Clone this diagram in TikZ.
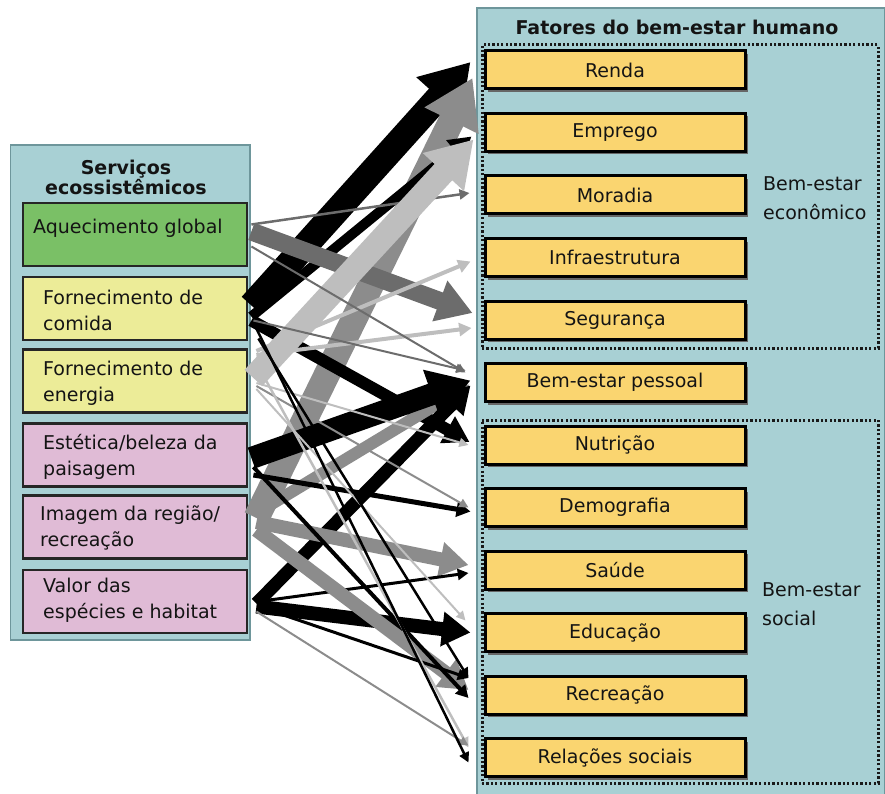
\documentclass[tikz,border=0pt]{standalone}
\usepackage{fontspec}
\setmainfont{DejaVu Sans}
\usetikzlibrary{arrows.meta,calc,shadows}
\definecolor{panel}{RGB}{168,208,212}
\definecolor{panelline}{RGB}{110,150,155}
\definecolor{svgreen}{RGB}{122,192,102}
\definecolor{svyellow}{RGB}{236,236,152}
\definecolor{svpink}{RGB}{224,187,214}
\definecolor{facyellow}{RGB}{250,213,112}
\definecolor{cdark}{RGB}{108,108,108}
\definecolor{cmed}{RGB}{140,140,140}
\definecolor{clight}{RGB}{190,190,190}
\definecolor{txt}{RGB}{20,20,20}
\begin{document}
\begin{tikzpicture}[x=1pt,y=-1pt,
  every node/.style={font=\fontsize{19}{26}\selectfont, text=txt},
  panelbox/.style={draw=panelline, line width=1.2pt, fill=panel, inner sep=0pt},
  svc/.style={draw=black!85, line width=2.8pt, minimum width=224pt, minimum height=63pt, inner sep=0pt},
  svctext/.style={anchor=west, align=left, inner sep=0pt},
  fac/.style={draw=black, line width=3pt, fill=facyellow, minimum width=260pt, minimum height=38pt, inner sep=0pt,
    drop shadow={shadow xshift=3pt, shadow yshift=-3pt, fill=black!60, opacity=1}},
  dotbox/.style={draw=black!90, line width=3pt, dash pattern=on 2.2pt off 2.2pt, inner sep=0pt},
  grp/.style={anchor=west, align=left, inner sep=0pt, font=\fontsize{19}{29}\selectfont},
  ttl/.style={align=center, inner sep=0pt, font=\bfseries\fontsize{19}{20}\selectfont},
  arw/.style={-{Triangle[length=6pt 1.6, width=5pt 2]}, line cap=butt}
]
\useasboundingbox (0,0) rectangle (885,794);
\clip (0,0) rectangle (885,794);

% panels
\node[panelbox, minimum width=239.5pt, minimum height=495pt] (lp) at (130.25,392.5) {};
\node[panelbox, minimum width=407.5pt, minimum height=810pt] (rp) at (680.75,413) {};

% left title and services
\node[ttl] (lt) at (126,177) {Serviços\\ecossistêmicos};
\node[svc, fill=svgreen]  (aq)  at (135,234.5) {};
\node[svc, fill=svyellow] (com) at (135,308.5) {};
\node[svc, fill=svyellow] (en)  at (135,381) {};
\node[svc, fill=svpink]   (est) at (135,455) {};
\node[svc, fill=svpink]   (img) at (135,527) {};
\node[svc, fill=svpink]   (val) at (135,601.5) {};
\node[svctext] (aqt)  at (33,228) {Aquecimento global};
\node[svctext] (comt) at (43,310) {Fornecimento de\\comida};
\node[svctext] (ent)  at (43,383.5) {Fornecimento de\\energia};
\node[svctext] (estt) at (43,456.5) {Estética/beleza da\\paisagem};
\node[svctext] (imgt) at (40,527.5) {Imagem da região/\\recreação};
\node[svctext] (valt) at (43,600) {Valor das\\espécies e habitat};

% right title, groups and factors
\node[ttl] (rt) at (677,27) {Fatores do bem-estar humano};
\node[dotbox, minimum width=396pt, minimum height=303pt] (econ) at (680,196.5) {};
\node[dotbox, minimum width=396pt, minimum height=363pt] (soc) at (680,601.5) {};
\node[grp] (econt) at (763,198) {Bem-estar\\econômico};
\node[grp] (soct) at (762,604) {Bem-estar\\social};

\node[fac] (renda) at (615,70) {Renda};
\node[fac] (emp)   at (615,132.5) {Emprego};
\node[fac] (mor)   at (615,195) {Moradia};
\node[fac] (inf)   at (615,257.5) {Infraestrutura};
\node[fac] (seg)   at (615,320) {Segurança};
\node[fac] (pes)   at (615,382.5) {Bem-estar pessoal};
\node[fac] (nut)   at (615,445) {Nutrição};
\node[fac] (dem)   at (615,507.5) {Demografia};
\node[fac] (sau)   at (615,570) {Saúde};
\node[fac] (edu)   at (615,632.5) {Educação};
\node[fac] (rec)   at (615,695) {Recreação};
\node[fac] (rel)   at (615,757.5) {Relações sociais};

% connectors
\draw[arw, draw=black, line width=26pt] ($(com.east)+(3,-3)$) -- ($(renda.west)+(-13,-8)$);
\draw[arw, draw=cmed, line width=26pt] ($(img.east)+(8,-9)$) -- ($(renda.west)+(-11,8)$);
\draw[arw, draw=black, line width=10pt] ($(com.east)+(3,8)$) -- ($(emp.west)+(-12,4)$);
\draw[arw, draw=black, line width=12pt] ($(com.east)+(3,12)$) -- ($(nut.west)+(-14,-3)$);
\draw[arw, draw=cdark, line width=18pt] ($(aq.east)+(3,-3)$) -- ($(seg.west)+(-11,-7)$);
\draw[arw, draw=cdark, line width=2.5pt] ($(aq.east)+(3,-10)$) -- ($(mor.west)+(-14,-2)$);
\draw[arw, draw=cmed, line width=12pt] ($(img.east)+(10,-15)$) -- ($(pes.west)+(-14,2)$);
\draw[arw, draw=clight, line width=24pt] ($(en.east)+(5,-3)$) -- ($(emp.west)+(-10,7)$);
\draw[arw, draw=clight, line width=4pt] ($(en.east)+(8,-30)$) -- ($(inf.west)+(-13,4)$);
\draw[arw, draw=clight, line width=4pt] ($(en.east)+(8,-26)$) -- ($(seg.west)+(-12,8)$);
\draw[arw, draw=cdark, line width=2pt] ($(aq.east)+(3,12)$) -- ($(pes.west)+(-18,-10)$);
\draw[arw, draw=cdark, line width=2pt] ($(com.east)+(5,12)$) -- ($(pes.west)+(-18,-12)$);
\draw[arw, draw=black, line width=22pt] ($(est.east)+(3,3)$) -- ($(pes.west)+(-13,-2)$);
\draw[arw, draw=black, line width=13pt] ($(val.east)+(8,2)$) -- ($(pes.west)+(-13,3)$);
\draw[arw, draw=clight, line width=2pt] ($(en.east)+(8,2)$) -- ($(nut.west)+(-15,0)$);
\draw[arw, draw=black, line width=5pt] ($(est.east)+(5,20)$) -- ($(dem.west)+(-13,4)$);
\draw[arw, draw=cmed, line width=2pt] ($(en.east)+(8,5)$) -- ($(dem.west)+(-15,0)$);
\draw[arw, draw=cmed, line width=14pt] ($(img.east)+(8,-5)$) -- ($(sau.west)+(-15,-5)$);
\draw[arw, draw=black, line width=3pt] ($(val.east)+(10,0)$) -- ($(sau.west)+(-15,3)$);
\draw[arw, draw=black, line width=14pt] ($(val.east)+(8,5)$) -- ($(edu.west)+(-13,0)$);
\draw[arw, draw=clight, line width=2pt] ($(en.east)+(8,8)$) -- ($(edu.west)+(-18,-12)$);
\draw[arw, draw=cmed, line width=14pt] ($(img.east)+(8,3)$) -- ($(rec.west)+(-15,-5)$);
\draw[arw, draw=black, line width=4pt] ($(est.east)+(5,12)$) -- ($(rec.west)+(-15,3)$);
\draw[arw, draw=black, line width=2.5pt] ($(com.east)+(10,30)$) -- ($(rec.west)+(-15,-17)$);
\draw[arw, draw=black, line width=3pt] ($(val.east)+(10,5)$) -- ($(rec.west)+(-15,-17)$);
\draw[arw, draw=clight, line width=2.5pt] ($(en.east)+(8,-18)$) -- ($(rel.west)+(-15,-10)$);
\draw[arw, draw=cmed, line width=2pt] ($(val.east)+(8,10)$) -- ($(rel.west)+(-15,-12)$);
\draw[arw, draw=black, line width=2.5pt] ($(com.east)+(8,20)$) -- ($(rel.west)+(-15,5)$);
\end{tikzpicture}
\end{document}
